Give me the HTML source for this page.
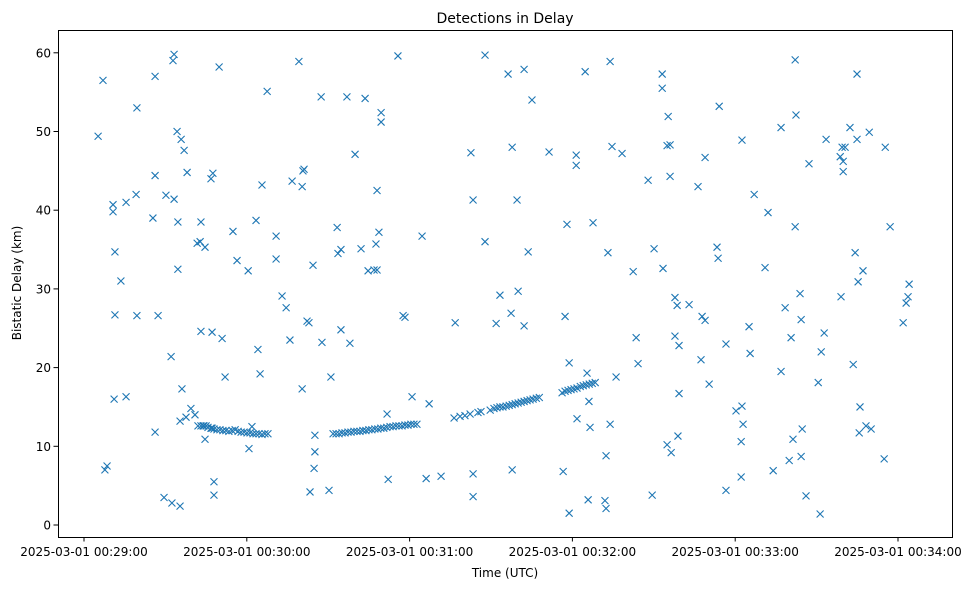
<!DOCTYPE html>
<html><head><meta charset="utf-8"><style>
body{margin:0;background:#fff;font-family:"Liberation Sans","DejaVu Sans",sans-serif;}
svg text{font-family:"DejaVu Sans","Liberation Sans",sans-serif;}
</style></head><body>
<svg id="chart" width="979" height="590" xmlns="http://www.w3.org/2000/svg">
<rect width="979" height="590" fill="#fff"/>
<text x="505" y="23" font-size="14" text-anchor="middle">Detections in Delay</text>
<text x="505" y="577" font-size="12" text-anchor="middle">Time (UTC)</text>
<text x="0" y="0" font-size="12" text-anchor="middle" transform="translate(21,283) rotate(-90)">Bistatic Delay (km)</text>
<g id="ticks"></g>
<g id="marks"></g>
<rect x="58.5" y="30.5" width="894" height="507" fill="none" stroke="#000" stroke-width="1"/>
</svg>
<script>
const xTickSeconds=[0,60,120,180,240,300];
const xTickLabels=["2025-03-01 00:29:00","2025-03-01 00:30:00","2025-03-01 00:31:00","2025-03-01 00:32:00","2025-03-01 00:33:00","2025-03-01 00:34:00"];
const yTickValues=[0,10,20,30,40,50,60];
const times=[5.2,7.0,7.7,8.5,10.7,10.7,11.1,11.4,11.4,13.6,15.5,15.5,19.2,19.5,19.5,25.4,26.2,26.2,26.2,27.3,29.5,30.2,32.1,32.4,32.8,33.2,33.2,34.3,34.6,34.6,35.4,35.4,35.8,36.1,36.9,38.0,37.6,39.4,40.9,41.7,42.8,43.1,43.1,43.9,44.6,44.6,45.0,46.8,47.2,47.2,47.5,47.9,47.9,49.8,50.9,52.0,54.9,56.4,60.5,60.8,63.4,64.1,64.9,65.6,67.5,70.8,70.8,73.0,74.5,75.9,76.7,79.2,80.4,80.4,80.7,81.1,82.2,82.9,83.3,84.4,84.8,85.1,85.1,87.4,87.7,90.3,91.0,93.3,93.6,94.7,94.7,96.9,98.0,99.9,102.1,103.6,104.7,106.9,107.6,108.0,108.0,108.7,109.5,109.5,111.7,112.1,115.7,117.6,118.3,120.9,124.6,126.1,127.2,131.6,136.8,142.6,143.4,143.4,143.4,147.8,147.8,151.9,153.3,156.3,157.4,157.8,157.8,159.6,160.0,162.2,162.2,163.7,165.1,171.4,176.6,177.3,178.0,178.8,178.8,181.4,181.4,181.7,184.7,185.4,185.8,186.1,186.5,187.6,192.0,192.4,192.4,193.1,193.9,193.9,194.6,196.1,198.3,202.4,203.5,204.2,207.9,209.4,210.1,213.1,213.1,213.4,214.9,214.9,215.3,216.0,216.0,216.4,217.8,217.8,218.6,218.9,219.3,219.3,223.0,226.3,227.4,227.8,228.9,228.9,230.4,233.3,233.7,234.1,236.6,236.6,240.3,242.2,242.2,242.5,242.5,242.9,245.1,245.5,247.0,251.0,252.1,254.0,256.9,256.9,258.4,259.9,260.6,261.3,262.1,262.1,262.4,263.9,264.3,264.3,264.7,266.1,267.2,270.6,271.3,271.7,272.8,273.5,278.7,279.0,279.4,279.8,279.8,280.5,282.3,283.5,284.2,284.9,284.9,285.3,285.7,286.0,287.1,288.2,289.4,290.1,294.9,295.3,297.1,301.9,303.0,303.7,304.1,
42.0,43.1,44.2,45.7,46.8,47.9,49.0,50.1,51.2,52.3,53.4,54.6,55.7,56.8,57.9,59.0,60.1,61.2,62.3,63.4,64.5,65.6,66.7,67.8,61.9,
91.8,92.9,94.0,95.1,96.2,97.3,98.4,99.5,100.6,101.7,102.8,103.9,105.0,106.1,107.2,108.3,109.4,110.5,111.6,112.8,113.9,115.0,116.1,117.2,118.3,119.4,120.5,121.6,122.7,
136.4,138.6,140.4,142.3,145.2,146.3,149.7,151.1,152.2,153.3,154.4,155.6,156.7,157.8,158.9,160.0,161.1,162.2,163.3,164.4,165.5,166.7,167.8,
176.2,177.3,178.4,179.5,180.6,181.7,182.9,184.0,185.1,186.2,187.3,188.4];
const delays=[49.4,56.5,7.0,7.5,40.7,39.8,16.0,34.7,26.7,31.0,16.3,41.0,42.0,53.0,26.6,39.0,57.0,44.4,11.8,26.6,3.5,41.9,21.4,2.8,59.0,59.8,41.4,50.0,32.5,38.5,2.4,13.2,49.0,17.3,47.6,44.8,13.7,14.8,14.0,35.8,36.0,24.6,38.5,12.6,35.3,10.9,12.6,44.0,24.5,12.3,44.7,5.5,3.8,58.2,23.7,18.8,37.3,33.6,32.3,9.7,38.7,22.3,19.2,43.2,55.1,36.7,33.8,29.1,27.6,23.5,43.7,58.9,43.0,17.3,45.0,45.2,25.9,25.7,4.2,33.0,7.2,9.3,11.4,54.4,23.2,4.4,18.8,37.8,34.5,24.8,35.0,54.4,23.1,47.1,35.1,54.2,32.3,32.4,35.7,32.4,42.5,37.2,52.4,51.2,14.1,5.8,59.6,26.6,26.4,16.3,36.7,5.9,15.4,6.2,25.7,47.3,41.3,6.5,3.6,59.7,36.0,25.6,29.2,57.3,26.9,48.0,7.0,41.3,29.7,57.9,25.3,34.7,54.0,47.4,6.8,26.5,38.2,20.6,1.5,47.0,45.7,13.5,57.6,19.3,3.2,15.7,12.4,38.4,3.1,2.1,8.8,34.6,58.9,12.8,48.1,18.8,47.2,32.2,23.8,20.5,43.8,3.8,35.1,57.3,55.5,32.6,10.2,48.2,51.9,44.3,48.3,9.2,28.9,24.0,27.9,11.3,22.8,16.7,28.0,43.0,21.0,26.5,46.7,26.0,17.9,35.3,33.9,53.2,23.0,4.4,14.5,10.6,6.1,48.9,15.1,12.8,25.2,21.8,42.0,32.7,39.7,6.9,50.5,19.5,27.6,8.2,23.8,10.9,59.1,37.9,52.1,29.4,8.7,26.1,12.2,3.7,45.9,18.1,1.4,22.0,24.4,49.0,46.8,29.0,48.0,46.2,44.9,48.0,50.5,20.4,34.6,57.3,49.0,30.9,11.7,15.0,32.3,12.6,49.9,12.2,8.4,48.0,37.9,25.7,28.2,29.0,30.6,
12.6,12.6,12.6,12.4,12.3,12.2,12.1,12.1,12.0,12.0,11.9,12.0,12.1,11.9,11.8,11.8,11.7,11.7,11.6,11.6,11.6,11.5,11.6,11.6,12.5,
11.6,11.6,11.6,11.7,11.7,11.8,11.8,11.9,11.9,11.9,12.0,12.0,12.1,12.1,12.2,12.2,12.3,12.3,12.4,12.5,12.5,12.6,12.6,12.6,12.7,12.7,12.8,12.8,12.8,
13.6,13.8,13.9,14.1,14.3,14.4,14.6,14.8,14.9,15.0,15.0,15.1,15.2,15.3,15.4,15.5,15.6,15.7,15.8,15.9,16.0,16.1,16.2,
16.8,17.0,17.1,17.2,17.3,17.4,17.6,17.7,17.8,17.9,18.0,18.1];

const NS="http://www.w3.org/2000/svg";
function xScale(t){return 84+t*(162.8/60);}
function yScale(v){return 525-v*7.87;}
const tg=document.getElementById('ticks');
xTickSeconds.forEach((t,i)=>{
  const x=xScale(t);
  const l=document.createElementNS(NS,'line');
  l.setAttribute('x1',x);l.setAttribute('x2',x);l.setAttribute('y1',537);l.setAttribute('y2',541.5);l.setAttribute('stroke','#000');
  
  
  tg.appendChild(l);
  const tx=document.createElementNS(NS,'text');
  tx.setAttribute('x',x);tx.setAttribute('y',556);tx.setAttribute('font-size','12');tx.setAttribute('text-anchor','middle');
  tx.textContent=xTickLabels[i];
  
  
  tg.appendChild(tx);
});
yTickValues.forEach(v=>{
  const y=yScale(v);
  const l=document.createElementNS(NS,'line');
  l.setAttribute('x1',53.5);l.setAttribute('x2',58);l.setAttribute('y1',y);l.setAttribute('y2',y);l.setAttribute('stroke','#000');
  
  
  tg.appendChild(l);
  const tx=document.createElementNS(NS,'text');
  tx.setAttribute('x',51);tx.setAttribute('y',y+4.5);tx.setAttribute('font-size','12');tx.setAttribute('text-anchor','end');
  tx.textContent=String(v);
  
  
  tg.appendChild(tx);
});
const mg=document.getElementById('marks');
const n=Math.min(times.length,delays.length);
for(let i=0;i<n;i++){
  const x=xScale(times[i]),y=yScale(delays[i]),s=3.5;
  const p=document.createElementNS(NS,'path');
  p.setAttribute('d',`M${x-s},${y-s}L${x+s},${y+s}M${x-s},${y+s}L${x+s},${y-s}`);
  p.setAttribute('stroke','#1f77b4');p.setAttribute('stroke-width','1.1');p.setAttribute('fill','none');
  
  
  mg.appendChild(p);
}
</script>
</body></html>
